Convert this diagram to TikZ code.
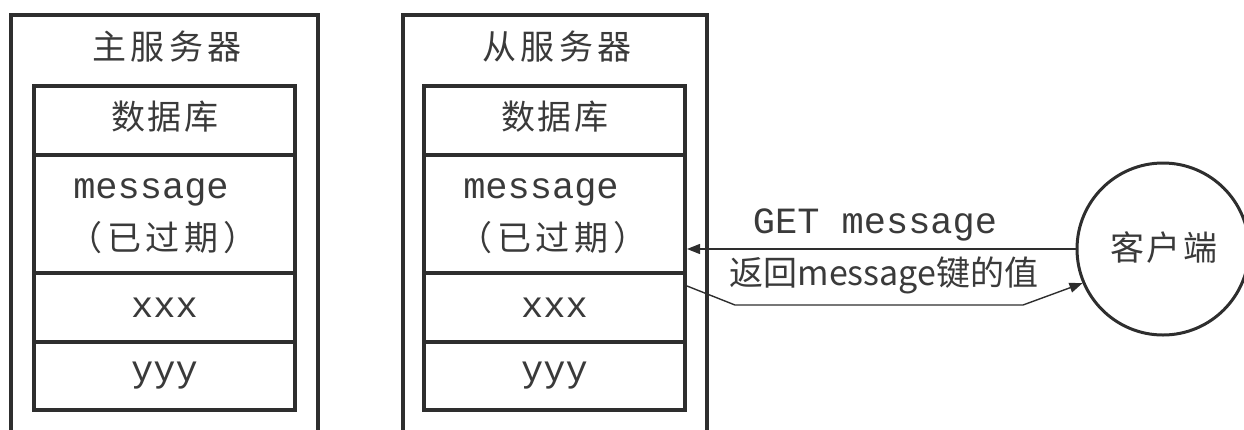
\documentclass[tikz,border=0pt]{standalone}
\usepackage{fontspec}
\setmonofont{Liberation Mono}
\newfontfamily\cjk{Noto Sans CJK SC}
\newfontfamily\cjkw{Noto Sans CJK SC}[LetterSpace=12]
\newfontfamily\cjkm{Noto Sans CJK SC}[LetterSpace=6]
\newfontfamily\cjkp{Noto Sans CJK SC}[LetterSpace=14]
\usetikzlibrary{arrows.meta,calc}
\definecolor{ink}{HTML}{2E2E2E}
\definecolor{txt}{HTML}{3A3A3A}
\begin{document}
\begin{tikzpicture}[x=1pt,y=-1pt,
  cell/.style={draw=ink, line width=4pt, minimum width=261pt, inner sep=0pt},
  frame/.style={draw=ink, line width=4.5pt},
  cjkt/.style={text=txt, inner sep=0pt, font=\cjk\fontsize{34pt}{40pt}\selectfont},
  cjkwide/.style={text=txt, inner sep=0pt, font=\cjkw\fontsize{34pt}{40pt}\selectfont},
  cjkmid/.style={text=txt, inner sep=0pt, font=\cjkm\fontsize{34pt}{40pt}\selectfont},
  cjkpar/.style={text=txt, inner sep=0pt, font=\cjkp\fontsize{34pt}{40pt}\selectfont},
  monot/.style={text=txt, inner sep=0pt, font=\ttfamily\fontsize{37pt}{42pt}\selectfont},
  conn/.style={draw=ink, line width=1.4pt},
  tipa/.style={-{Triangle[length=13pt,width=10pt]}}
]
\useasboundingbox (0,0) rectangle (1244,429);

% ---------- master server ----------
\draw[frame] (11,432) -- (11,15) -- (318,15) -- (318,432);
\node[cjkwide] (ltitle) at (167,47) {主服务器};
\node[cell, minimum height=69pt]  (l1) at (164.5,120.5) {};
\node[cell, minimum height=118pt] (l2) at (164.5,214) {};
\node[cell, minimum height=69pt]  (l3) at (164.5,307.5) {};
\node[cell, minimum height=68pt]  (l4) at (164.5,376) {};
\node[cjkmid] (l1t) at (165,117) {数据库};
\node[monot] (l2a) at (151,192) {message};
\node[cjkpar] (l2b) at (163,238) {（已过期）};
\node[monot] (l3t) at (l3) {xxx};
\node[monot] (l4t) at (l4) {yyy};

% ---------- slave server ----------
\draw[frame] (403,432) -- (403,15) -- (707,15) -- (707,432);
\node[cjkwide] (rtitle) at (557,47) {从服务器};
\node[cell, minimum height=69pt]  (r1) at (554.5,120.5) {};
\node[cell, minimum height=118pt] (r2) at (554.5,214) {};
\node[cell, minimum height=69pt]  (r3) at (554.5,307.5) {};
\node[cell, minimum height=68pt]  (r4) at (554.5,376) {};
\node[cjkmid] (r1t) at (555,117) {数据库};
\node[monot] (r2a) at (541,192) {message};
\node[cjkpar] (r2b) at (553,238) {（已过期）};
\node[monot] (r3t) at (r3) {xxx};
\node[monot] (r4t) at (r4) {yyy};

% ---------- client ----------
\node[circle, draw=ink, line width=3pt, minimum size=172pt, inner sep=0pt] (client) at (1163,249) {};
\node[cjkmid] (clientt) at (1164,248) {客户端};

% ---------- connectors ----------
\draw[conn, tipa] (client.west) -- (client.west -| r2.east);
\node[monot] (getl) at (875,225) {GET message};
\coordinate (b1) at (735,305);
\coordinate (b2) at (1023,305);
\draw[conn, tipa] ($(r3.north east)+(0,15)$) -- (b1) -- (b2) -- (client.203);
\node[cjkt] (retl) at (884,275) {返回message键的值};
\end{tikzpicture}
\end{document}
